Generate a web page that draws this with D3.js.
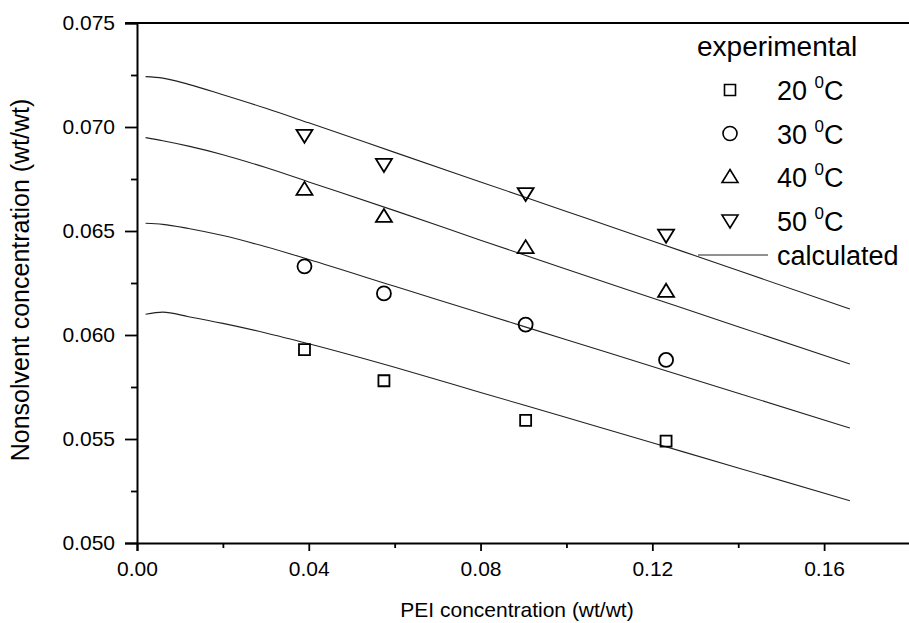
<!DOCTYPE html>
<html>
<head>
<meta charset="utf-8">
<script src="https://cdn.jsdelivr.net/npm/d3@7"></script>
<style>
  body { margin: 0; background: #fff; }
  svg { display: block; font-family: "Liberation Sans", Arial, sans-serif; }
</style>
</head>
<body>
<svg width="909" height="623"></svg>
<script>
// experimental points, PEI concentration (wt/wt)
var pei = [0.039, 0.0575, 0.0905, 0.1232];
var exp20 = [0.0593, 0.0578, 0.0559, 0.0549];
var exp30 = [0.0633, 0.0620, 0.0605, 0.0588];
var exp40 = [0.0670, 0.0657, 0.0642, 0.0621];
var exp50 = [0.0696, 0.0682, 0.0668, 0.0648];

// calculated curves
var calcX = [0.002, 0.006, 0.012, 0.02, 0.03, 0.04, 0.06, 0.08, 0.10, 0.12, 0.14, 0.166];
var calc20 = [0.06100, 0.06110, 0.06088, 0.06056, 0.06010, 0.05958, 0.05845, 0.05724, 0.05603, 0.05482, 0.05361, 0.05203];
var calc30 = [0.06537, 0.06532, 0.06512, 0.06478, 0.06424, 0.06363, 0.06234, 0.06106, 0.05977, 0.05849, 0.05720, 0.05553];
var calc40 = [0.06949, 0.06934, 0.06908, 0.06867, 0.06805, 0.06736, 0.06598, 0.06456, 0.06316, 0.06178, 0.06040, 0.05861];
var calc50 = [0.07242, 0.07235, 0.07205, 0.07155, 0.07090, 0.07020, 0.06878, 0.06736, 0.06594, 0.06452, 0.06310, 0.06125];

var xTicks = [0, 0.04, 0.08, 0.12, 0.16];
var yTicks = [0.050, 0.055, 0.060, 0.065, 0.070, 0.075];
var legendLabels = ["20", "30", "40", "50"];

var svg = d3.select("svg");
var mLeft = 137, mRight = 910, mTop = 23, mBottom = 543;

var x = d3.scaleLinear().domain([0, 0.18]).range([mLeft, mRight]);
var y = d3.scaleLinear().domain([0.050, 0.075]).range([mBottom, mTop]);

// calculated lines
var line = d3.line()
    .x(function(d) { return x(d[0]); })
    .y(function(d) { return y(d[1]); })
    .curve(d3.curveMonotoneX);

[calc20, calc30, calc40, calc50].forEach(function(vals) {
  svg.append("path")
      .datum(calcX.map(function(v, i) { return [v, vals[i]]; }))
      .attr("d", line)
      .attr("fill", "none")
      .attr("stroke", "#222")
      .attr("stroke-width", 1.1);
});

// marker shapes
function square(cx, cy) { var s = 5.5; return "M" + (cx - s) + "," + (cy - s) + "h" + 2*s + "v" + 2*s + "h" + (-2*s) + "Z"; }
function circle(cx, cy) { var r = 7; return "M" + (cx - r) + "," + cy + "a" + r + "," + r + " 0 1,0 " + 2*r + ",0a" + r + "," + r + " 0 1,0 " + (-2*r) + ",0Z"; }
function triUp(cx, cy) { return "M" + cx + "," + (cy - 7.5) + "L" + (cx + 8) + "," + (cy + 5.5) + "L" + (cx - 8) + "," + (cy + 5.5) + "Z"; }
function triDown(cx, cy) { return "M" + cx + "," + (cy + 7.5) + "L" + (cx + 8) + "," + (cy - 5.5) + "L" + (cx - 8) + "," + (cy - 5.5) + "Z"; }
var shapes = [square, circle, triUp, triDown];

[exp20, exp30, exp40, exp50].forEach(function(vals, k) {
  svg.append("g").selectAll("path")
      .data(vals)
      .enter().append("path")
      .attr("d", function(d, i) { return shapes[k](x(pei[i]), y(d)); })
      .attr("fill", "none")
      .attr("stroke", "#000")
      .attr("stroke-width", 1.8);
});

// axes
var xAxis = svg.append("g")
    .attr("transform", "translate(0," + mBottom + ")")
    .call(d3.axisBottom(x).tickValues(xTicks).tickFormat(d3.format(".2f")).tickSize(8).tickPadding(10));
svg.append("g")
    .attr("transform", "translate(0," + mBottom + ")")
    .call(d3.axisBottom(x).tickValues([0.02, 0.06, 0.10, 0.14]).tickFormat("").tickSize(5))
    .call(function(g) { g.select(".domain").remove(); });

var yAxis = svg.append("g")
    .attr("transform", "translate(" + mLeft + ",0)")
    .call(d3.axisLeft(y).tickValues(yTicks).tickFormat(d3.format(".3f")).tickSize(12).tickPadding(8));
svg.append("g")
    .attr("transform", "translate(" + mLeft + ",0)")
    .call(d3.axisLeft(y).tickValues([0.0525, 0.0575, 0.0625, 0.0675, 0.0725]).tickFormat("").tickSize(6))
    .call(function(g) { g.select(".domain").remove(); });

svg.selectAll(".domain").attr("stroke", "#000").attr("stroke-width", 2);
svg.selectAll(".tick line").attr("stroke", "#000").attr("stroke-width", 1.8);
svg.selectAll(".tick text").attr("fill", "#000").style("font-size", "21px").style("font-family", "Liberation Sans, Arial, sans-serif");
yAxis.selectAll(".tick text").attr("dx", "-2");

// top frame line
svg.append("line")
    .attr("x1", mLeft - 12).attr("x2", 909)
    .attr("y1", y(0.075)).attr("y2", y(0.075))
    .attr("stroke", "#000").attr("stroke-width", 2);

// axis titles
svg.append("text")
    .attr("x", 517).attr("y", 617)
    .attr("text-anchor", "middle")
    .style("font-size", "21px")
    .text("PEI concentration (wt/wt)");

svg.append("text")
    .attr("transform", "translate(29,280) rotate(-90)")
    .attr("text-anchor", "middle")
    .style("font-size", "25px")
    .text("Nonsolvent concentration (wt/wt)");

// legend
var lg = svg.append("g");
lg.append("text")
    .attr("x", 697).attr("y", 56)
    .style("font-size", "28px")
    .text("experimental");

legendLabels.forEach(function(lab, k) {
  var ly = 90 + k * 43.5;
  lg.append("path")
      .attr("d", shapes[k](730, ly))
      .attr("fill", "none")
      .attr("stroke", "#000")
      .attr("stroke-width", 1.6);
  var t = lg.append("text")
      .attr("x", 777).attr("y", ly + 10)
      .style("font-size", "27px");
  t.append("tspan").text(lab + " ");
  t.append("tspan").attr("dy", -12).style("font-size", "17px").text("0");
  t.append("tspan").attr("dy", 12).text("C");
});

lg.append("line")
    .attr("x1", 698).attr("x2", 768)
    .attr("y1", 255).attr("y2", 255)
    .attr("stroke", "#222").attr("stroke-width", 1.1);
lg.append("text")
    .attr("x", 777).attr("y", 265)
    .style("font-size", "27px")
    .text("calculated");
</script>
</body>
</html>
